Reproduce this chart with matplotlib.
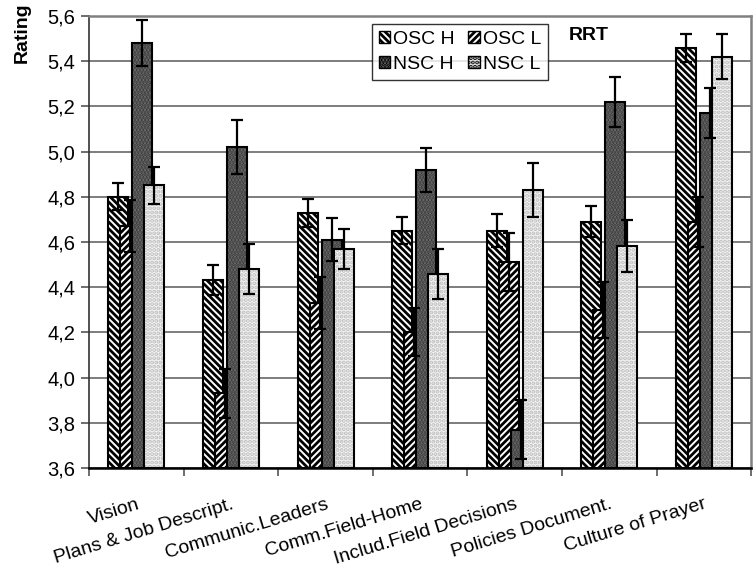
import matplotlib
matplotlib.use("Agg")
import matplotlib.pyplot as plt
import matplotlib.patches as patches
import numpy as np

plt.rcParams['font.family'] = ['Liberation Sans', 'DejaVu Sans']
plt.rcParams['hatch.linewidth'] = 2.0

categories = ["Vision", "Plans & Job Descript.", "Communic.Leaders", "Comm.Field-Home",
              "Includ.Field Decisions", "Policies Document.", "Culture of Prayer"]
series_names = ["OSC H", "OSC L", "NSC H", "NSC L"]

osc_h = [4.80, 4.43, 4.73, 4.65, 4.65, 4.69, 5.46]
osc_l = [4.67, 3.93, 4.33, 4.20, 4.51, 4.30, 4.69]
nsc_h = [5.48, 5.02, 4.61, 4.92, 3.77, 5.22, 5.17]
nsc_l = [4.85, 4.48, 4.57, 4.46, 4.83, 4.58, 5.42]

osc_h_err = [0.06, 0.066, 0.062, 0.061, 0.074, 0.068, 0.062]
osc_l_err = [0.115, 0.11, 0.115, 0.106, 0.128, 0.123, 0.111]
nsc_h_err = [0.103, 0.12, 0.094, 0.097, 0.13, 0.111, 0.111]
nsc_l_err = [0.082, 0.112, 0.089, 0.111, 0.118, 0.115, 0.099]

values = [osc_h, osc_l, nsc_h, nsc_l]
errors = [osc_h_err, osc_l_err, nsc_h_err, nsc_l_err]

# fill style per series: (face, hatch, hatch colour)
styles = [("white", "\\\\\\\\\\", "black"),
          ("white", "/////", "black"),
          ("#747474", ".....", "#3a3a3a"),
          ("#f4f4f4", "....", "#bdbdbd")]

fig = plt.figure(figsize=(7.55, 5.7), dpi=100)
ax = fig.add_axes([0.118, 0.179, 0.877, 0.793])

x = np.arange(len(categories))
width = 0.211
offsets = [-0.19, -0.063, 0.063, 0.19]

for k in range(4):
    face, hatch, hcol = styles[k]
    pos = x + offsets[k]
    # hatched fill first, then a black outline on top of it
    ax.bar(pos, np.array(values[k]) - 3.6, width, bottom=3.6, color=face,
           hatch=hatch, edgecolor=hcol, linewidth=0, zorder=2 + k * 0.1)
    ax.bar(pos, np.array(values[k]) - 3.6, width, bottom=3.6, fill=False,
           edgecolor="black", linewidth=1.5, zorder=2.05 + k * 0.1)

for k in range(4):
    ax.errorbar(x + offsets[k], values[k], yerr=errors[k], fmt="none",
                ecolor="black", elinewidth=1.6, capsize=4.5, capthick=1.6, zorder=5)

ax.set_ylim(3.6, 5.6)
ax.set_xlim(-0.5, 6.5)
yt = np.arange(3.6, 5.61, 0.2)
ax.set_yticks(yt)
ax.set_yticklabels([f"{v:.1f}".replace(".", ",") for v in yt], fontsize=14.5)
ax.yaxis.grid(True, color="#5a5a5a", linewidth=1.1, zorder=0)
ax.set_axisbelow(True)

# group boundaries carry the tick marks, labels sit on the group centres
ax.set_xticks(np.arange(-0.5, 6.6, 1.0))
ax.set_xticklabels([])
ax.set_xticks(x, minor=True)
ax.set_xticklabels(categories, minor=True, rotation=17, ha="right",
                   rotation_mode="anchor", fontsize=14)
ax.tick_params(axis="x", which="minor", length=0, pad=20)
ax.tick_params(axis="x", which="major", length=6, width=1.2, color="#555555")
ax.tick_params(axis="y", length=6, width=1.2, color="#555555", pad=4)

for side in ["top", "right"]:
    ax.spines[side].set_color("#808080")
    ax.spines[side].set_linewidth(1.8)
ax.spines["left"].set_color("#333333")
ax.spines["left"].set_linewidth(1.2)
ax.spines["bottom"].set_color("black")
ax.spines["bottom"].set_linewidth(1.8)

fig.text(0.029, 1 - 33 / 570, "Rating", rotation=90, fontsize=14, fontweight="bold",
         ha="center", va="center")
ax.text(0.724, 0.956, "RRT", transform=ax.transAxes, fontsize=14, fontweight="bold",
        ha="left", va="center")

handles = []
for k in range(4):
    face, hatch, hcol = styles[k]
    handles.append(patches.Patch(facecolor=face, hatch=hatch, edgecolor="black",
                                 linewidth=1.0, label=series_names[k]))
# legend fills column by column, so reorder to get OSC on the first row
order = [0, 2, 1, 3]
leg = ax.legend([handles[i] for i in order], [series_names[i] for i in order],
                ncol=2, loc="upper left", bbox_to_anchor=(0.427, 0.982),
                borderaxespad=0, fontsize=14, frameon=True, fancybox=False,
                handlelength=0.6, handleheight=0.6, handletextpad=0.15,
                columnspacing=0.7, labelspacing=0.4, borderpad=0.35)
leg.get_frame().set_edgecolor("black")
leg.get_frame().set_linewidth(1.0)
leg.set_zorder(10)

fig.savefig("out.png", dpi=100)
